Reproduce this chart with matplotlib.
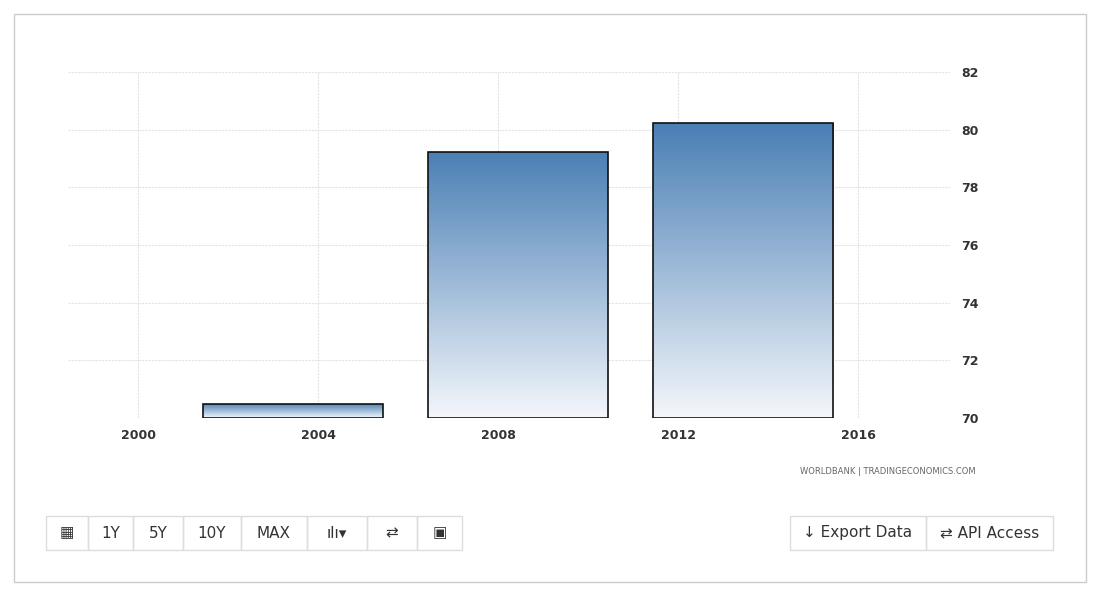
import matplotlib
matplotlib.use("Agg")
import matplotlib.pyplot as plt
import numpy as np
from matplotlib.patches import Rectangle
from matplotlib.colors import LinearSegmentedColormap

years = [2003, 2008, 2013]
values = [70.5, 79.23, 80.23]
xticks = [2000, 2004, 2008, 2012, 2016]
yticks = [70, 72, 74, 76, 78, 80, 82]

W, H = 1104, 598
fig = plt.figure(figsize=(W/100, H/100), dpi=100)
fig.patch.set_facecolor("white")
fig.patches.append(Rectangle((14/W, 1-582/H), 1072/W, 568/H, transform=fig.transFigure,
                             fill=False, ec="#cccccc", lw=1))
ax = fig.add_axes([68/W, 1-418/H, (950-68)/W, (418-72)/H])
cmap = LinearSegmentedColormap.from_list("g", ["#f4f7fb", "#4a7fb5"])
grad = np.linspace(0, 1, 256).reshape(-1, 1)
for yr, v in zip(years, values):
    x0 = yr + 0.44 - 2
    im = ax.imshow(grad, extent=[x0, x0 + 4, 70, v], origin="lower", cmap=cmap,
                   aspect="auto", zorder=2)
    r = Rectangle((x0, 70), 4, v - 70, fill=False, ec="#111111", lw=1.2, zorder=3)
    ax.add_patch(r)
    im.set_clip_path(r)
ax.set_aspect("auto")
ax.set_xlim(1998.44, 2018.04)
ax.set_ylim(70, 82)
ax.set_xticks(xticks)
ax.set_yticks(yticks)
ax.yaxis.tick_right()
ax.grid(True, color="#e3e3e3", lw=0.8, ls=(0, (2, 1)))
ax.set_axisbelow(True)
for s in ax.spines.values():
    s.set_visible(False)
ax.tick_params(length=0, labelsize=9, colors="#333333", pad=8)
for lab in ax.get_xticklabels() + ax.get_yticklabels():
    lab.set_fontweight("bold")
fig.text(976/W, 1-472/H, "WORLDBANK | TRADINGECONOMICS.COM", ha="right", va="center",
         fontsize=6, color="#666666")

def btn(x0, x1, label, y0=516, y1=550, fs=11):
    fig.patches.append(Rectangle((x0/W, 1-y1/H), (x1-x0)/W, (y1-y0)/H,
                                 transform=fig.transFigure, fill=False, ec="#dddddd", lw=1))
    fig.text((x0+x1)/2/W, 1-(y0+y1)/2/H, label, ha="center", va="center",
             fontsize=fs, color="#333333")
for x0, x1, lab in [(46, 88, "▦"), (88, 133, "1Y"), (133, 183, "5Y"), (183, 241, "10Y"),
                    (241, 307, "MAX"), (307, 367, "ılı▾"), (367, 417, "⇄"), (417, 462, "▣")]:
    btn(x0, x1, lab)
btn(790, 926, "↓ Export Data")
btn(926, 1053, "⇄ API Access")
fig.savefig("out.png", dpi=100)
